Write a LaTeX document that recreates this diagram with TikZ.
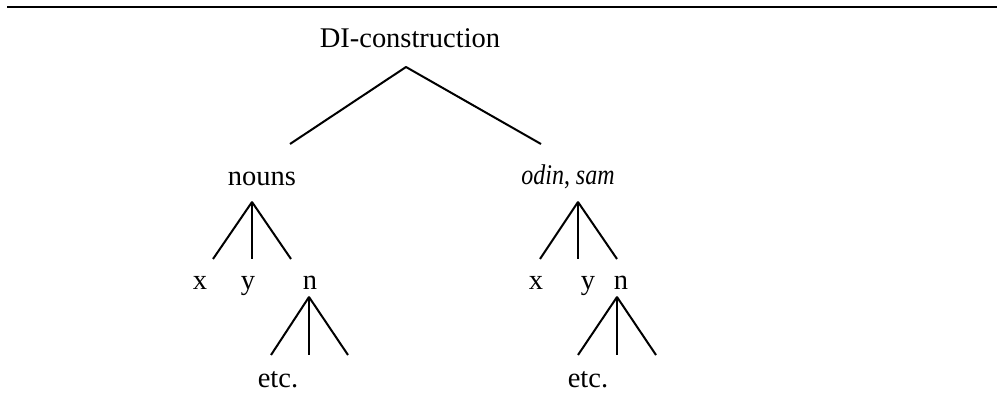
\documentclass[tikz,border=0pt]{standalone}
\usepackage{fontspec}
\setmainfont{Liberation Serif}
\newfontfamily\narrowserif[FakeStretch=0.84]{Liberation Serif}
\usepackage{tikz}
\usetikzlibrary{positioning}

\begin{document}
\begin{tikzpicture}[>=latex,line join=bevel,scale=0.5,
  lbl/.style={draw=none,inner sep=0pt,anchor=base,font=\fontsize{14.3}{17}\selectfont},
  branch/.style={black,line width=1bp}]
%%
\useasboundingbox (0bp,0bp) rectangle (998bp,410bp);
\draw [black,line width=0.7bp] (7bp,403bp) -- (997bp,403bp);
%% labels
\node (DI-construction) at (410bp,362bp) [lbl] {DI-construction};
  \node (nouns) at (262bp,224bp) [lbl] {nouns};
  \node (odin-sam) at (568bp,225bp) [lbl] {\narrowserif\itshape odin\upshape, \itshape sam};
  \node (nouns-x) at (200bp,120bp) [lbl] {x};
  \node (nouns-y) at (248bp,120bp) [lbl] {y};
  \node (nouns-n) at (310bp,120bp) [lbl] {n};
  \node (odin-x) at (536bp,120bp) [lbl] {x};
  \node (odin-y) at (588bp,120bp) [lbl] {y};
  \node (odin-n) at (621bp,120bp) [lbl] {n};
  \node (nouns-etc) at (278bp,23bp) [lbl] {etc.};
  \node (odin-etc) at (588bp,23bp) [lbl] {etc.};
%% branch points
\coordinate (DI-construction-a) at (406bp,343bp);
  \coordinate (nouns-top) at (290bp,266bp);
  \coordinate (odin-sam-top) at (541bp,266bp);
  \coordinate (nouns-a) at (252bp,208bp);
  \coordinate (nouns-x-top) at (213bp,151bp);
  \coordinate (nouns-y-top) at (252bp,151bp);
  \coordinate (nouns-n-top) at (291bp,151bp);
  \coordinate (odin-sam-a) at (578bp,208bp);
  \coordinate (odin-x-top) at (540bp,151bp);
  \coordinate (odin-y-top) at (578bp,151bp);
  \coordinate (odin-n-top) at (617bp,151bp);
  \coordinate (nouns-n-a) at (309bp,113bp);
  \coordinate (nouns-etc-l) at (271bp,55bp);
  \coordinate (nouns-etc-m) at (309bp,55bp);
  \coordinate (nouns-etc-r) at (348bp,55bp);
  \coordinate (odin-n-a) at (617bp,113bp);
  \coordinate (odin-etc-l) at (578bp,55bp);
  \coordinate (odin-etc-m) at (617bp,55bp);
  \coordinate (odin-etc-r) at (656bp,55bp);
%% branches
\draw [branch] (nouns-top) -- (DI-construction-a) -- (odin-sam-top);
  \draw [branch] (nouns-x-top) -- (nouns-a) -- (nouns-n-top);
  \draw [branch] (nouns-a) -- (nouns-y-top);
  \draw [branch] (odin-x-top) -- (odin-sam-a) -- (odin-n-top);
  \draw [branch] (odin-sam-a) -- (odin-y-top);
  \draw [branch] (nouns-etc-l) -- (nouns-n-a) -- (nouns-etc-r);
  \draw [branch] (nouns-n-a) -- (nouns-etc-m);
  \draw [branch] (odin-etc-l) -- (odin-n-a) -- (odin-etc-r);
  \draw [branch] (odin-n-a) -- (odin-etc-m);
%
\end{tikzpicture}
\end{document}
